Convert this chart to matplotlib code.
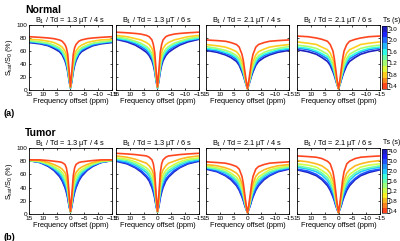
import matplotlib
matplotlib.use("Agg")
import matplotlib.pyplot as plt
from matplotlib.colors import ListedColormap, BoundaryNorm
from matplotlib.colorbar import ColorbarBase

plt.rcParams.update({"font.family": ["Liberation Sans", "DejaVu Sans"], "font.size": 5.5,
                     "mathtext.fontset": "custom", "mathtext.rm": "Liberation Sans",
                     "mathtext.it": "Liberation Sans:italic", "axes.linewidth": 0.6})

# offsets (ppm), spectra are symmetric so only the positive side is listed
OFFSETS = [0, 0.5, 1, 1.5, 2, 3, 4, 6, 8, 11, 15]
TITLES = ["B$_1$ / Td = 1.3 µT / 4 s", "B$_1$ / Td = 1.3 µT / 6 s",
          "B$_1$ / Td = 2.1 µT / 4 s", "B$_1$ / Td = 2.1 µT / 6 s"]
XTICKS = [15, 10, 5, 0, -5, -10, -15]
YTICKS = [0, 20, 40, 60, 80, 100]

NORMAL_LEVELS = [0.4, 0.6, 0.8, 1.0, 1.2, 1.4, 1.6, 1.8, 2.0, 2.5, 3.0]
NORMAL_TS = [0.4, 0.8, 1.2, 1.6, 2.0, 3.0]
TUMOR_LEVELS = [0.4, 0.6, 0.8, 1.0, 1.2, 1.4, 1.6, 1.8, 2.0, 2.5, 3.0, 3.5, 4.0]
TUMOR_TS = [0.4, 0.8, 1.2, 1.6, 2.0, 3.0, 4.0]

# Ssat/S0 (%) per Ts (rows) at OFFSETS
NORMAL_13_4 = [[5, 30, 55, 65, 70, 75, 77, 79, 80, 81, 82],
               [4, 23, 44, 54, 60, 66, 69, 73, 75, 77, 78],
               [4, 20, 37, 47, 54, 61, 65, 69, 72, 74, 76],
               [3, 17, 34, 44, 50, 58, 63, 67, 71, 73, 75],
               [3, 16, 31, 41, 48, 57, 61, 66, 69, 72, 74],
               [3, 14, 28, 38, 45, 54, 59, 64, 68, 71, 73]]
NORMAL_13_6 = [[5, 30, 58, 70, 77, 82, 84, 86, 87, 88, 89],
               [4, 23, 45, 57, 64, 70, 73, 77, 79, 82, 84],
               [4, 20, 39, 49, 56, 63, 67, 72, 75, 79, 82],
               [3, 17, 34, 45, 52, 59, 64, 69, 73, 77, 80],
               [3, 16, 32, 42, 49, 56, 61, 67, 71, 76, 79],
               [3, 14, 28, 38, 45, 53, 58, 64, 69, 74, 78]]
NORMAL_21_4 = [[2, 15, 30, 45, 55, 66, 70, 73, 75, 76, 77],
               [2, 12, 24, 35, 44, 54, 59, 63, 66, 68, 70],
               [2, 10, 20, 30, 37, 48, 53, 58, 61, 64, 67],
               [2, 10, 18, 27, 34, 44, 50, 55, 58, 62, 64],
               [2, 9, 17, 25, 31, 41, 47, 53, 56, 60, 63],
               [2, 8, 15, 22, 28, 38, 44, 50, 54, 58, 61]]
NORMAL_21_6 = [[2, 15, 32, 48, 60, 70, 75, 78, 80, 82, 83],
               [2, 12, 25, 37, 47, 57, 62, 66, 70, 72, 74],
               [2, 10, 21, 31, 39, 49, 55, 60, 64, 67, 69],
               [2, 10, 19, 27, 35, 45, 51, 56, 60, 64, 66],
               [2, 9, 17, 25, 32, 42, 48, 53, 58, 62, 65],
               [2, 8, 15, 22, 28, 38, 44, 50, 55, 59, 62]]
TUMOR_13_4 = [[4, 30, 58, 70, 75, 78, 79, 80, 81, 82, 82],
              [4, 24, 46, 57, 63, 68, 71, 75, 78, 81, 82],
              [3, 20, 39, 50, 56, 63, 67, 72, 76, 80, 81],
              [3, 18, 35, 45, 51, 59, 64, 70, 75, 79, 81],
              [3, 16, 31, 41, 47, 56, 62, 69, 74, 79, 81],
              [3, 13, 26, 36, 42, 52, 59, 67, 73, 78, 81],
              [3, 12, 24, 33, 40, 50, 57, 66, 72, 78, 81]]
TUMOR_13_6 = [[4, 30, 62, 76, 82, 86, 88, 89, 90, 91, 92],
              [4, 24, 49, 61, 67, 73, 77, 80, 83, 86, 88],
              [3, 20, 41, 52, 59, 66, 70, 75, 79, 83, 85],
              [3, 18, 36, 46, 53, 61, 66, 72, 76, 81, 84],
              [3, 16, 32, 42, 49, 58, 63, 69, 74, 79, 82],
              [3, 13, 27, 36, 43, 53, 58, 66, 71, 77, 81],
              [3, 12, 24, 33, 40, 50, 56, 64, 70, 76, 80]]
TUMOR_21_4 = [[2, 14, 30, 46, 57, 68, 72, 75, 77, 78, 79],
              [2, 12, 24, 37, 46, 57, 62, 67, 70, 73, 75],
              [2, 10, 21, 32, 40, 50, 56, 62, 67, 70, 73],
              [2, 9, 18, 28, 36, 46, 52, 59, 64, 68, 71],
              [2, 9, 17, 26, 33, 43, 49, 57, 62, 67, 70],
              [2, 8, 14, 22, 28, 38, 45, 54, 59, 65, 69],
              [2, 7, 13, 20, 26, 36, 43, 52, 58, 64, 68]]
TUMOR_21_6 = [[2, 16, 34, 52, 64, 76, 80, 84, 86, 87, 88],
              [2, 13, 27, 41, 51, 62, 67, 73, 76, 79, 81],
              [2, 11, 22, 34, 43, 54, 60, 66, 71, 74, 76],
              [2, 10, 19, 30, 38, 48, 55, 62, 67, 70, 73],
              [2, 9, 17, 27, 34, 44, 51, 59, 64, 68, 71],
              [2, 8, 14, 22, 29, 39, 46, 54, 60, 65, 68],
              [2, 7, 13, 20, 26, 36, 43, 52, 58, 63, 67]]

ROWS = [("Normal", "(a)", NORMAL_LEVELS, NORMAL_TS,
         [NORMAL_13_4, NORMAL_13_6, NORMAL_21_4, NORMAL_21_6]),
        ("Tumor", "(b)", TUMOR_LEVELS, TUMOR_TS,
         [TUMOR_13_4, TUMOR_13_6, TUMOR_21_4, TUMOR_21_6])]

W, H = 400, 241
LEFTS = [29, 116, 206, 297]
AX_W = 83
ROW_Y = [(25, 90), (148, 214)]     # pixel top / bottom of the axes rows


def fx(px):
    return px / W


def fy(py):
    return 1 - py / H


def level_colors(levels):
    jet = plt.get_cmap("jet")
    n = len(levels)
    out = []
    for i in range(n):
        r, g, b, _ = jet(0.86 - 0.81 * i / (n - 1))
        out.append((r + (1 - r) * 0.12, g + (1 - g) * 0.12, b + (1 - b) * 0.12))
    return out


fig = plt.figure(figsize=(W / 100, H / 100), dpi=100)
xs = [-o for o in OFFSETS[::-1]] + OFFSETS[1:]

for r, (name, tag, levels, shown, panels) in enumerate(ROWS):
    top, bot = ROW_Y[r]
    cols = level_colors(levels)
    for c, data in enumerate(panels):
        ax = fig.add_axes([fx(LEFTS[c]), fy(bot), fx(AX_W), (bot - top) / H])
        for ts, vals in reversed(list(zip(shown, data))):
            ys = list(vals[::-1]) + list(vals[1:])
            ax.plot(xs, ys, color=cols[levels.index(ts)], lw=1.2, solid_capstyle="butt")
        ax.set_xlim(15, -15); ax.set_ylim(0, 100)
        ax.set_xticks(XTICKS); ax.set_yticks(YTICKS)
        ax.tick_params(direction="in", length=1.5, width=0.5, labelsize=4.6, pad=1.5,
                       top=True, right=True)
        if c > 0:
            ax.set_yticklabels([])
        else:
            ax.set_ylabel("S$_\\mathrm{sat}$/S$_0$ (%)", fontsize=5.3, labelpad=1)
        ax.set_xlabel("Frequency offset (ppm)", fontsize=5.3, labelpad=1)
        ax.set_title(TITLES[c], fontsize=5.3, pad=2.5)
    fig.text(fx(25), fy(top - 15), name, fontsize=7.5, fontweight="bold", va="center")
    fig.text(fx(3), fy(bot + 24), tag, fontsize=6.5, fontweight="bold", va="center")

    # discrete Ts colour bar
    cax = fig.add_axes([fx(382), fy(bot - 1), fx(4.5), (bot - top - 2) / H])
    n = len(levels)
    cb = ColorbarBase(cax, cmap=ListedColormap(cols), norm=BoundaryNorm(range(n + 1), n),
                      orientation="vertical")
    cb.set_ticks([levels.index(t) + 0.5 for t in shown])
    cb.set_ticklabels([f"{t:.1f}" for t in shown])
    cb.outline.set_linewidth(0.4)
    cax.tick_params(labelsize=4.5, length=0, pad=1.5)
    fig.text(fx(391.5), fy(top - 5), "Ts (s)", fontsize=5, ha="center", va="center")

fig.savefig("out.png", dpi=100)
